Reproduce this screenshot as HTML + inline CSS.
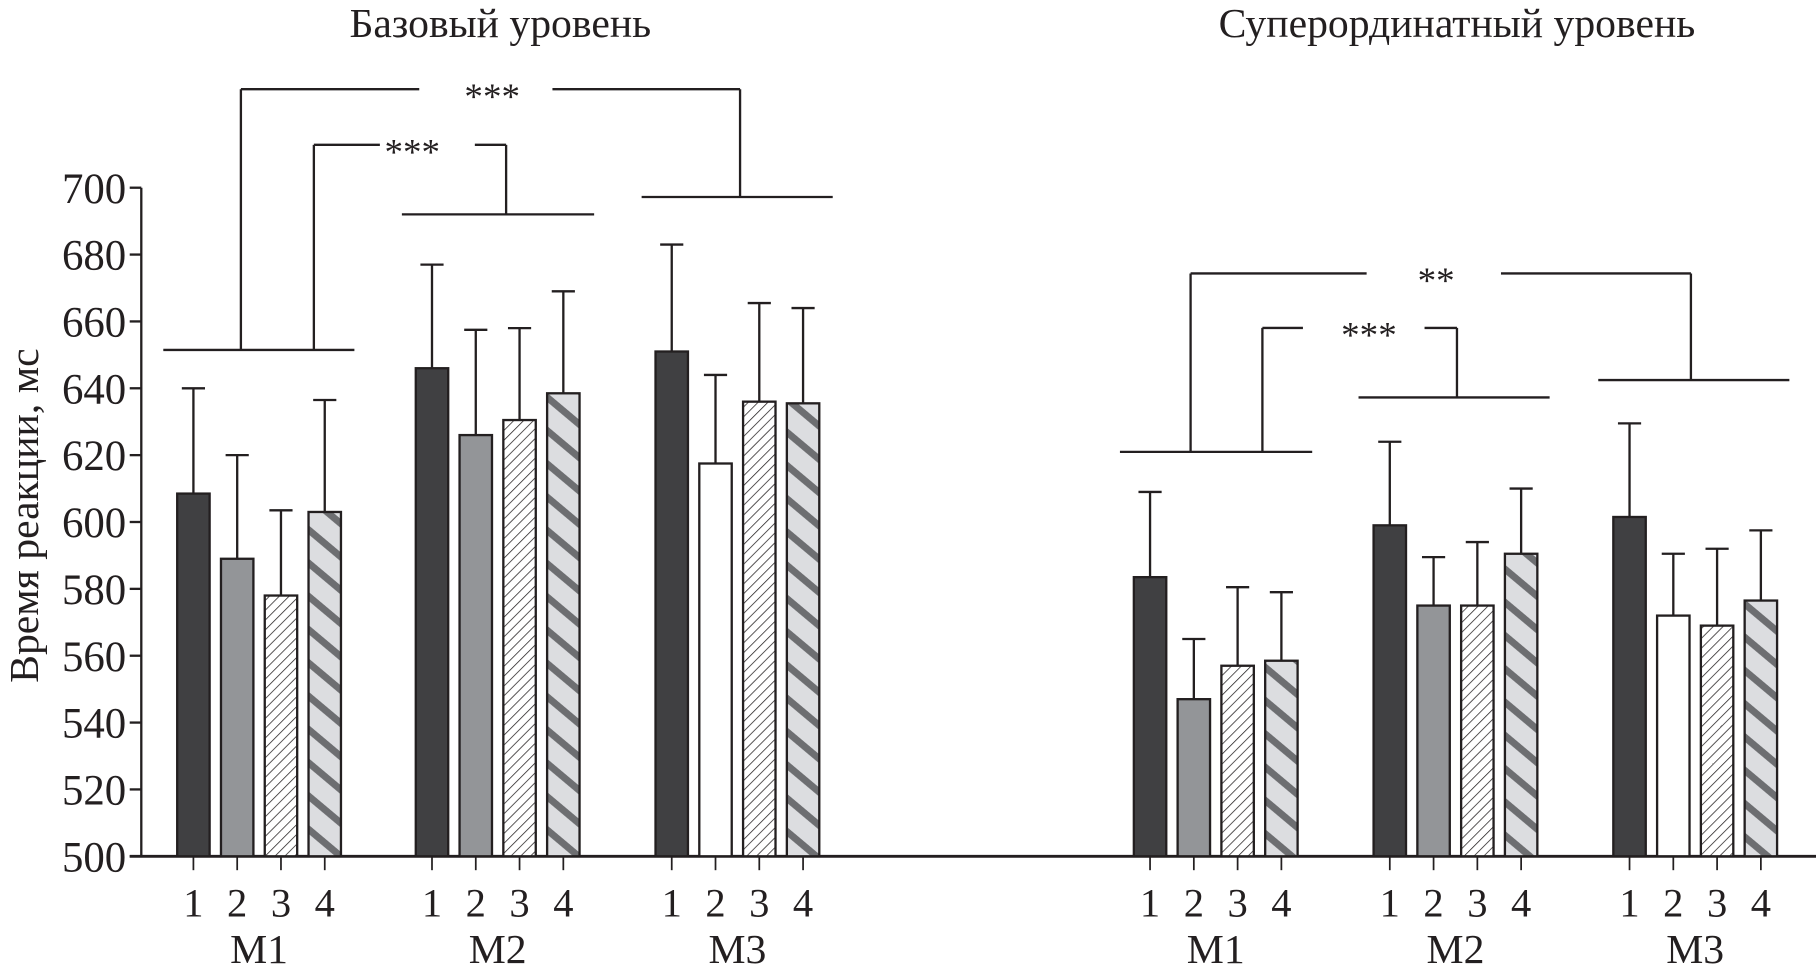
<!DOCTYPE html>
<html><head><meta charset="utf-8"><style>
html,body{margin:0;padding:0;background:#fff;}
svg{display:block;}
text{font-family:"Liberation Serif",serif;fill:#231f20;}
</style></head>
<body>
<svg id="chart" width="1816" height="971" viewBox="0 0 1568 838" preserveAspectRatio="none" xmlns="http://www.w3.org/2000/svg">
<defs>
<pattern id="hatch" patternUnits="userSpaceOnUse" width="6" height="6" patternTransform="rotate(45)">
<rect width="6" height="6" fill="#fff"/><line x1="0" y1="0" x2="0" y2="6" stroke="#231f20" stroke-width="1.3"/>
</pattern>
<pattern id="stripe" patternUnits="userSpaceOnUse" width="22" height="22" patternTransform="rotate(40)">
<rect width="22" height="22" fill="#dcdde0"/><rect x="0" y="0" width="22" height="6" fill="#6d6e71"/>
</pattern>
</defs>
<g id="plot"></g>
</svg>
<script>
const categories = ["M1","M2","M3"];
const conditions = ["1","2","3","4"];
const panels = ["Базовый уровень","Суперординатный уровень"];
const baseMeans = [[608.5,589,578,603],[646,626,630.5,638.5],[651,617.5,636,635.5]];
const baseUpper = [[640,620,603.5,636.5],[677,657.5,658,669],[683,644,665.5,664]];
const superMeans = [[583.5,547,557,558.5],[599,575,575,590.5],[601.5,572,569,576.5]];
const superUpper = [[609,565,580.5,579],[624,589.5,594,610],[629.5,590.5,592,597.5]];
const yTicks = [500,520,540,560,580,600,620,640,660,680,700];
const starLabels = ["***","***","**","***"];

const NS="http://www.w3.org/2000/svg";
const g=document.getElementById('plot');
function mk(tag,attrs,parent){const e=document.createElementNS(NS,tag);for(const k in attrs)e.setAttribute(k,attrs[k]);(parent||g).appendChild(e);return e;}
const Y0=739,Y1=162;
function y(v){return Y0-(v-500)*(Y0-Y1)/200;}
const groupStart=[[167,373,580],[993,1200,1407]];
const step=37.8,bw=28;
function x(panel,gi,ci){return groupStart[panel][gi]+ci*step;}
const fills=["#404042","#939598","url(#hatch)","url(#stripe)"];

let ax=mk('line',{x1:122,y1:Y1,x2:122,y2:Y0,stroke:'#231f20','stroke-width':2});


let xa=mk('line',{x1:112,y1:Y0,x2:1568,y2:Y0,stroke:'#231f20','stroke-width':2.5});


yTicks.forEach(t=>{
 let l=mk('line',{x1:112,y1:y(t),x2:122,y2:y(t),stroke:'#231f20','stroke-width':2});
 
 
 let tx=mk('text',{x:109,y:y(t)+13,'text-anchor':'end','font-size':37});
 tx.textContent=t;
 
 
});
let yt=mk('text',{x:0,y:0,'text-anchor':'middle','font-size':36,transform:'translate(33,445) rotate(-90)'});
yt.textContent="Время реакции, мс";



const titleX=[432,1258];
panels.forEach((p,pi)=>{
 let t=mk('text',{x:titleX[pi],y:32,'text-anchor':'middle','font-size':36});
 t.textContent=p;
 
 
 const means=pi===0?baseMeans:superMeans, ups=pi===0?baseUpper:superUpper;
 categories.forEach((c,gi)=>{
  conditions.forEach((cd,ci)=>{
   const cx=x(pi,gi,ci);
   let f=fills[ci]; if(ci===1&&gi===2) f="#ffffff";
   let e=mk('line',{x1:cx,y1:y(ups[gi][ci]),x2:cx,y2:y(means[gi][ci]),stroke:'#231f20','stroke-width':2});
   
   
   let cap=mk('line',{x1:cx-10,y1:y(ups[gi][ci]),x2:cx+10,y2:y(ups[gi][ci]),stroke:'#231f20','stroke-width':2});
   
   
   let r=mk('rect',{x:cx-bw/2,y:y(means[gi][ci]),width:bw,height:Y0-y(means[gi][ci]),fill:f,stroke:'#231f20','stroke-width':2});
   
   
   let tk=mk('line',{x1:cx,y1:Y0,x2:cx,y2:Y0+12,stroke:'#231f20','stroke-width':1.5});
   
   
   let tl=mk('text',{x:cx,y:791,'text-anchor':'middle','font-size':35});
   tl.textContent=cd;
   
   
  });
  let gl=mk('text',{x:x(pi,gi,0)+step*1.5,y:831,'text-anchor':'middle','font-size':36});
  gl.textContent=c;
  
  
 });
});

const segs=[
 [141,302,306,302],[208,302,208,77],[271,302,271,125],
 [208,77,362,77],[477,77,639,77],[639,77,639,170],[554,170,719,170],
 [271,125,328,125],[410,125,437,125],[437,125,437,185],[347,185,513,185],
 [967,390,1133,390],[1028,390,1028,236],[1090,390,1090,283],
 [1028,236,1180,236],[1296,236,1460,236],[1460,236,1460,328],[1380,328,1545,328],
 [1090,283,1125,283],[1230,283,1258,283],[1258,283,1258,343],[1173,343,1338,343]
];
segs.forEach(s=>{
 let l=mk('line',{x1:s[0],y1:s[1],x2:s[2],y2:s[3],stroke:'#231f20','stroke-width':2});
 
 
});
const starPos=[[425,94],[356,142],[1240,253],[1182,300]];
starPos.forEach((p,i)=>{
 let t=mk('text',{x:p[0],y:p[1],'text-anchor':'middle','font-size':32});
 t.textContent=starLabels[i];
 
 
});
</script>
</body></html>
